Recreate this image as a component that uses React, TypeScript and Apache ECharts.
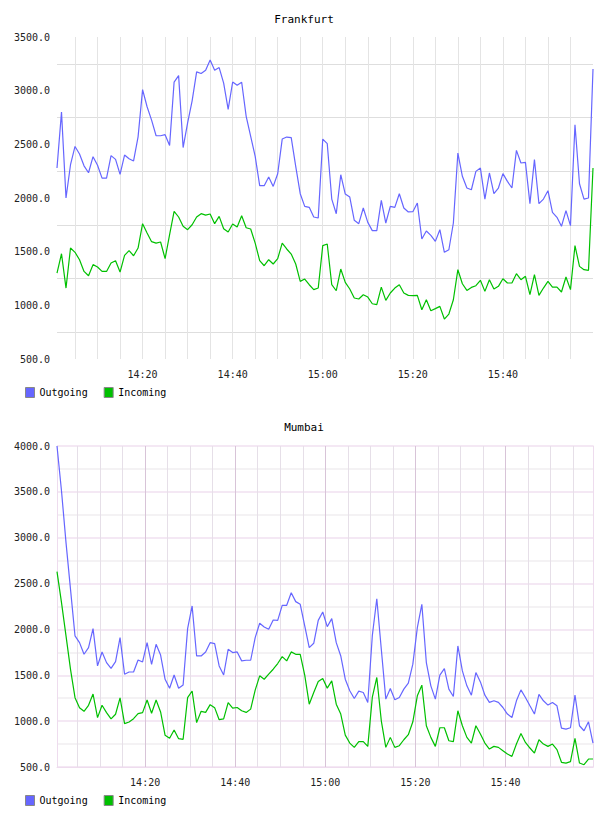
import React, { useEffect, useRef } from 'react';
import * as echarts from 'echarts';

const pad2 = (n: number) => String(n).padStart(2, '0');

// "H:MM" labels, one per minute.
function minuteLabels(startMinute: number, count: number): string[] {
  const out: string[] = [];
  for (let i = 0; i < count; i++) {
    const m = startMinute + i;
    out.push(`${Math.floor(m / 60)}:${pad2(m % 60)}`);
  }
  return out;
}

// Sample times in minutes after 14:00, one per minute from the first sample.
function minuteOffsets(firstSecond: number, count: number): number[] {
  const out: number[] = [];
  for (let i = 0; i < count; i++) out.push(firstSecond / 60 + i);
  return out;
}

const frankfurtTimes = minuteLabels(14 * 60 + 1, 120);
const mumbaiMinutes = minuteOffsets(26, 120); // 14:00:26, 14:01:26, ...
const timeTicks = ['14:20', '14:40', '15:00', '15:20', '15:40'];

const frankfurtOutgoing = [
  2280, 2800, 2000, 2310, 2480, 2410, 2300, 2235, 2385, 2305,
  2185, 2185, 2395, 2360, 2220, 2400, 2365, 2345, 2570, 3010,
  2850, 2725, 2580, 2580, 2590, 2490, 3080, 3140, 2470, 2700,
  2905, 3175, 3160, 3190, 3285, 3190, 3215, 3070, 2825, 3081,
  3050, 3078, 2761, 2574, 2388, 2115, 2115, 2196, 2108, 2226,
  2549, 2568, 2562, 2295, 2040, 1922, 1913, 1823, 1814, 2549,
  2506, 1990, 1853, 2217, 2037, 2009, 1792, 1761, 1907, 1773,
  1696, 1696, 1978, 1767, 1922, 1913, 2040, 1907, 1870, 1872,
  1953, 1618, 1692, 1652, 1596, 1705, 1494, 1518, 1767, 2419,
  2202, 2093, 2077, 2248, 2279, 1990, 2233, 2040, 2093, 2227,
  2155, 2093, 2444, 2326, 2332, 1947, 2357, 1947, 1990, 2068,
  1866, 1820, 1736, 1882, 1742, 2683, 2133, 1990, 2000, 3202,
];

const frankfurtIncoming = [
  1301, 1481, 1161, 1534, 1494, 1425, 1316, 1276, 1379, 1357,
  1316, 1316, 1394, 1416, 1310, 1466, 1509, 1462, 1534, 1761,
  1674, 1593, 1580, 1590, 1435, 1658, 1876, 1823, 1736, 1705,
  1751, 1823, 1854, 1841, 1851, 1761, 1829, 1714, 1683, 1758,
  1730, 1835, 1723, 1711, 1580, 1416, 1369, 1425, 1385, 1435,
  1580, 1525, 1478, 1385, 1223, 1245, 1192, 1146, 1161, 1556,
  1571, 1192, 1136, 1338, 1214, 1152, 1068, 1059, 1099, 1077,
  1015, 1006, 1170, 1046, 1115, 1161, 1192, 1115, 1093, 1090,
  1093, 959, 1052, 950, 969, 990, 872, 919, 1052, 1332,
  1201, 1139, 1167, 1183, 1233, 1130, 1239, 1152, 1177, 1248,
  1208, 1208, 1295, 1239, 1270, 1099, 1286, 1093, 1161, 1223,
  1170, 1170, 1124, 1264, 1146, 1556, 1363, 1332, 1326, 2279,
];

const mumbaiOutgoing = [
  4000, 3510, 2946, 2437, 1929, 1856, 1729, 1801, 2009, 1602,
  1754, 1638, 1576, 1649, 1910, 1511, 1536, 1536, 1667, 1645,
  1856, 1620, 1838, 1721, 1456, 1358, 1503, 1358, 1394, 2009,
  2256, 1711, 1711, 1754, 1856, 1845, 1602, 1503, 1783, 1748,
  1755, 1657, 1664, 1664, 1911, 2067, 2027, 2001, 2103, 2099,
  2263, 2263, 2400, 2303, 2274, 2038, 1802, 1849, 2099, 2190,
  2030, 2118, 1856, 1711, 1457, 1331, 1247, 1327, 1312, 1204,
  1929, 2335, 1784, 1240, 1356, 1233, 1258, 1349, 1414, 1621,
  2020, 2274, 1639, 1385, 1240, 1501, 1573, 1349, 1269, 1820,
  1548, 1385, 1283, 1530, 1428, 1283, 1204, 1222, 1204, 1149,
  1077, 1040, 1222, 1341, 1258, 1167, 1077, 1291, 1222, 1175,
  1204, 1167, 924, 913, 928, 1283, 950, 895, 993, 761,
];

const mumbaiIncoming = [
  2630, 2292, 1929, 1565, 1256, 1147, 1107, 1173, 1296, 1038,
  1173, 1093, 1024, 1075, 1253, 973, 991, 1027, 1082, 1093,
  1231, 1086, 1231, 1100, 846, 813, 904, 809, 802, 1256,
  1329, 984, 1107, 1096, 1180, 1147, 1016, 1024, 1202, 1142,
  1149, 1113, 1095, 1131, 1338, 1494, 1457, 1512, 1566, 1628,
  1704, 1657, 1755, 1729, 1729, 1501, 1185, 1312, 1432, 1465,
  1360, 1439, 1185, 1077, 848, 761, 714, 776, 776, 725,
  1258, 1476, 1004, 714, 823, 714, 732, 797, 852, 993,
  1276, 1392, 950, 823, 725, 928, 928, 786, 776, 1113,
  950, 823, 761, 950, 859, 761, 696, 725, 714, 678,
  641, 616, 750, 866, 768, 707, 652, 797, 750, 725,
  750, 689, 551, 543, 558, 812, 543, 525, 587, 587,
];

const FONT = '"DejaVu Sans Mono", monospace';
const OUT_COLOR = '#6666ff';
const IN_COLOR = '#00c000';
const TEXT_COLOR = '#222';

const minuteOf = (label: string) => Number(label.split(':')[1]);
const valueLabel = (v: number) => (v % 500 === 0 ? v.toFixed(1) : '');

// Minutes after 14:00 -> "H:MM", only for the labelled marks.
const clockLabel = (v: number) => {
  if (Math.abs(v - Math.round(v)) > 1e-6) return '';
  const m = Math.round(v);
  const text = `${14 + Math.floor(m / 60)}:${pad2(m % 60)}`;
  return timeTicks.includes(text) ? text : '';
};

export default function App() {
  const ref = useRef<HTMLDivElement>(null);

  useEffect(() => {
    if (!ref.current) return;
    const chart = echarts.init(ref.current, undefined, { renderer: 'svg' });

    const labelStyle = { fontFamily: FONT, fontSize: 10, color: TEXT_COLOR };
    const titleStyle = { fontFamily: FONT, fontSize: 11, fontWeight: 'normal', color: '#000' };
    const legendBase = {
      left: 25,
      padding: 0,
      icon: 'rect',
      itemWidth: 9,
      itemHeight: 10,
      itemGap: 16,
      itemStyle: { borderColor: '#888', borderWidth: 1 },
      textStyle: { fontFamily: FONT, fontSize: 10, color: '#000' },
      data: ['Outgoing', 'Incoming'],
    };

    const fLast = frankfurtTimes.length - 1;
    const mMin = mumbaiMinutes[0];
    const mMax = mumbaiMinutes[mumbaiMinutes.length - 1];

    const line = (name: string, data: any[], color: string, xi: number, yi: number) => ({
      name,
      type: 'line',
      xAxisIndex: xi,
      yAxisIndex: yi,
      data,
      showSymbol: false,
      symbol: 'none',
      color,
      lineStyle: { color, width: 1.2 },
    });

    chart.setOption({
      animation: false,
      title: [
        { text: 'Frankfurt', left: 'center', top: 14, padding: 0, textStyle: titleStyle },
        { text: 'Mumbai', left: 'center', top: 422, padding: 0, textStyle: titleStyle },
      ],
      legend: [
        { ...legendBase, top: 387 },
        { ...legendBase, top: 795 },
      ],
      grid: [
        { left: 57, right: 15, top: 37, height: 322 },
        { left: 57, right: 15, top: 446, height: 321 },
      ],
      xAxis: [
        {
          type: 'category',
          gridIndex: 0,
          data: frankfurtTimes,
          boundaryGap: false,
          axisLine: { show: false },
          axisTick: { show: false },
          axisLabel: {
            ...labelStyle,
            margin: 10,
            interval: (_i: number, v: string) => timeTicks.includes(v),
          },
          splitLine: {
            show: true,
            interval: (i: number, v: string) => i > 0 && i < fLast && minuteOf(v) % 5 === 0,
            lineStyle: { color: '#e4e4e4', width: 1 },
          },
        },
        {
          // 5-minute grid and the time labels
          type: 'value',
          gridIndex: 1,
          min: mMin,
          max: mMax,
          minInterval: 5,
          maxInterval: 5,
          splitNumber: 24,
          axisLine: { show: true, lineStyle: { color: '#eedcee', width: 1 } },
          axisTick: { show: false },
          axisLabel: {
            ...labelStyle,
            margin: 10,
            showMinLabel: false,
            showMaxLabel: false,
            hideOverlap: false,
            formatter: (v: number) => clockLabel(v),
          },
          splitLine: {
            show: true,
            showMinLine: false,
            showMaxLine: false,
            lineStyle: { color: '#e6dfe8', width: 1 },
          },
        },
        {
          // 20-minute grid
          type: 'value',
          gridIndex: 1,
          min: mMin,
          max: mMax,
          minInterval: 20,
          maxInterval: 20,
          splitNumber: 6,
          axisLine: { show: false },
          axisTick: { show: false },
          axisLabel: { show: false },
          splitLine: {
            show: true,
            showMinLine: false,
            showMaxLine: false,
            lineStyle: { color: '#d8c4d8', width: 1 },
          },
        },
      ],
      yAxis: [
        {
          type: 'value',
          gridIndex: 0,
          min: 500,
          max: 3500,
          interval: 250,
          axisLine: { show: false },
          axisTick: { show: false },
          axisLabel: { ...labelStyle, margin: 7, formatter: valueLabel },
          splitLine: { show: true, lineStyle: { color: ['rgba(0,0,0,0)', '#dedede'], width: 1 } },
        },
        {
          type: 'value',
          gridIndex: 1,
          min: 500,
          max: 4000,
          interval: 250,
          axisLine: { show: true, lineStyle: { color: '#eedcee', width: 1 } },
          axisTick: { show: false },
          axisLabel: { ...labelStyle, margin: 7, formatter: valueLabel },
          splitLine: { show: true, lineStyle: { color: ['#f0e0f0', '#f0eef0'], width: 1.5 } },
        },
        {
          type: 'value',
          gridIndex: 1,
          position: 'right',
          min: 500,
          max: 4000,
          interval: 250,
          axisLine: { show: true, lineStyle: { color: '#eedcee', width: 1 } },
          axisTick: { show: false },
          axisLabel: { show: false },
          splitLine: { show: false },
        },
      ],
      series: [
        line('Outgoing', frankfurtOutgoing, OUT_COLOR, 0, 0),
        line('Incoming', frankfurtIncoming, IN_COLOR, 0, 0),
        line('Outgoing', mumbaiMinutes.map((t, i) => [t, mumbaiOutgoing[i]]), OUT_COLOR, 1, 1),
        line('Incoming', mumbaiMinutes.map((t, i) => [t, mumbaiIncoming[i]]), IN_COLOR, 1, 1),
      ],
    });

    return () => chart.dispose();
  }, []);

  return (
    <div
      ref={ref}
      style={{ position: 'absolute', left: 0, top: 0, width: 608, height: 816 }}
    />
  );
}
